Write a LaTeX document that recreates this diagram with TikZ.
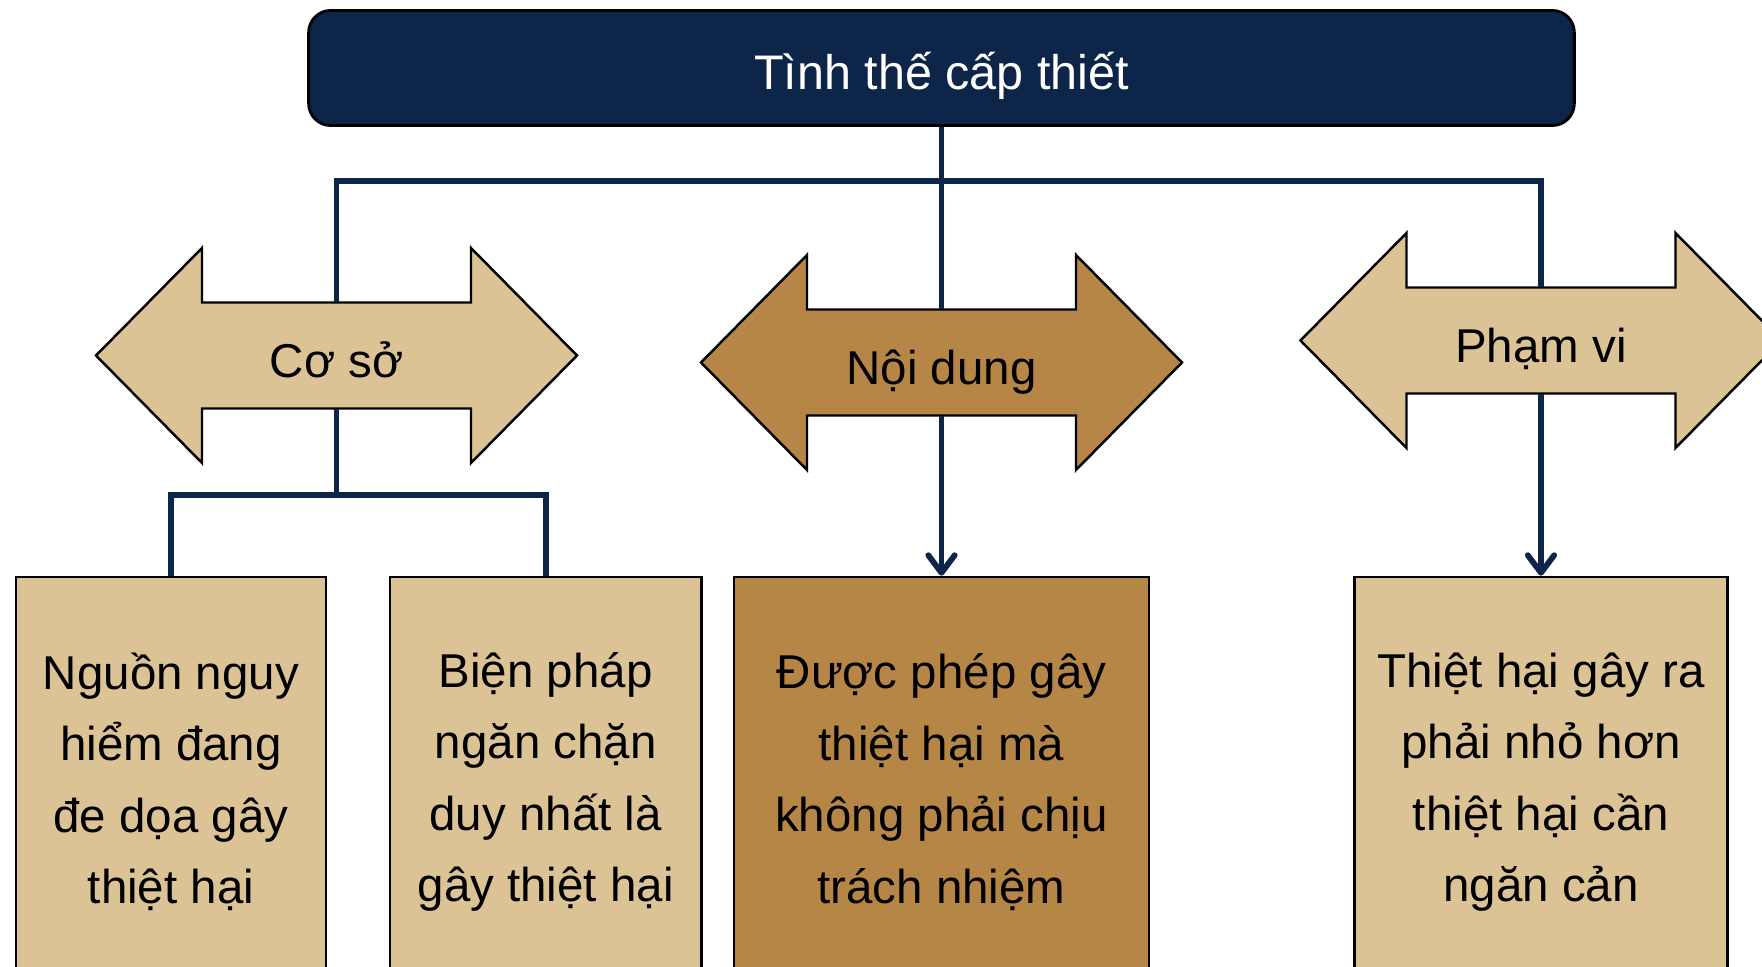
\documentclass[tikz,border=0pt]{standalone}
\usepackage{fontspec}
\setmainfont{Liberation Sans}
\usetikzlibrary{arrows.meta, backgrounds}

\definecolor{navy}{HTML}{0D2548}
\definecolor{tanlight}{HTML}{DCC396}
\definecolor{tandark}{HTML}{B68647}

\tikzset{
  conn/.style={draw=navy, line width=1.65pt},
  connarr/.style={conn, -{Straight Barb[length=5pt,width=7.5pt,round]}},
  topbox/.style={fill=navy, draw=black, line width=0.8pt, rounded corners=0.22cm,
    minimum width=12.65cm, minimum height=1.15cm, text=white,
    text height=12.5pt, text depth=0pt,
    font=\fontsize{13.8}{16}\selectfont},
  arrtext/.style={inner sep=0pt, minimum width=2.69cm, minimum height=1.06cm,
    text height=12.5pt, text depth=0pt,
    font=\fontsize{13.5}{16}\selectfont},
  leaf/.style={draw=black, line width=0.7pt, fill=tanlight, anchor=north,
    minimum height=4.1cm, align=center, font=\fontsize{13.5}{20.3}\selectfont},
}

% double arrow round a text node
\newcommand{\dblarrow}[2]{%
  \filldraw[fill=#2, draw=black, line width=0.7pt]
    ([shift={(-240.5,0)}]#1.center) -- ++(106,-107.5) -- ++(0,54.5) -- ++(269,0)
    -- ++(0,-54.5) -- ++(106,107.5) -- ++(-106,107.5) -- ++(0,-54.5)
    -- ++(-269,0) -- ++(0,54.5) -- cycle;}

\begin{document}
\begin{tikzpicture}[x=0.01cm, y=-0.01cm]
        \useasboundingbox (0,0) rectangle (1762,967);
        \clip (0,0) rectangle (1762,967);

        \node[topbox] (top) at (941.5,68) {Tình thế cấp thiết};

        \node[arrtext] (cs) at (336.5,355.5) {Cơ sở};
        \node[arrtext] (nd) at (941.5,362.5) {Nội dung};
        \node[arrtext] (pv) at (1541,340.5) {Phạm vi};

        \begin{scope}[on background layer]
            \dblarrow{cs}{tanlight}
            \dblarrow{nd}{tandark}
            \dblarrow{pv}{tanlight}
        \end{scope}

        \node[leaf, minimum width=3.1cm] (nguon) at (171,575.7)
            {Nguồn nguy\\hiểm đang\\đe dọa gây\\thiệt hại};
        \node[leaf, minimum width=3.115cm] (bienphap) at (545.7,575.7)
            {Biện pháp\\ngăn chặn\\duy nhất là\\gây thiệt hại};
        \node[leaf, minimum width=4.15cm, fill=tandark] (duoc) at (941.5,575.7)
            {Được phép gây\\thiệt hại mà\\không phải chịu\\trách nhiệm};
        \node[leaf, minimum width=3.73cm] (thiethai) at (1541,575.7)
            {Thiệt hại gây ra\\phải nhỏ hơn\\thiệt hại cần\\ngăn cản};

        \coordinate (bar) at (941.5,181);
        \coordinate (split) at (336.5,495);

        \draw[conn] (top.south) -- (nd.north);
        \draw[conn] (cs.north) |- (bar) -| (pv.north);
        \draw[conn] (cs.south) -- (split);
        \draw[conn] (nguon.north) |- (split) -| (bienphap.north);
        \draw[connarr] (nd.south) -- (duoc.north);
        \draw[connarr] (pv.south) -- (thiethai.north);
\end{tikzpicture}
\end{document}
